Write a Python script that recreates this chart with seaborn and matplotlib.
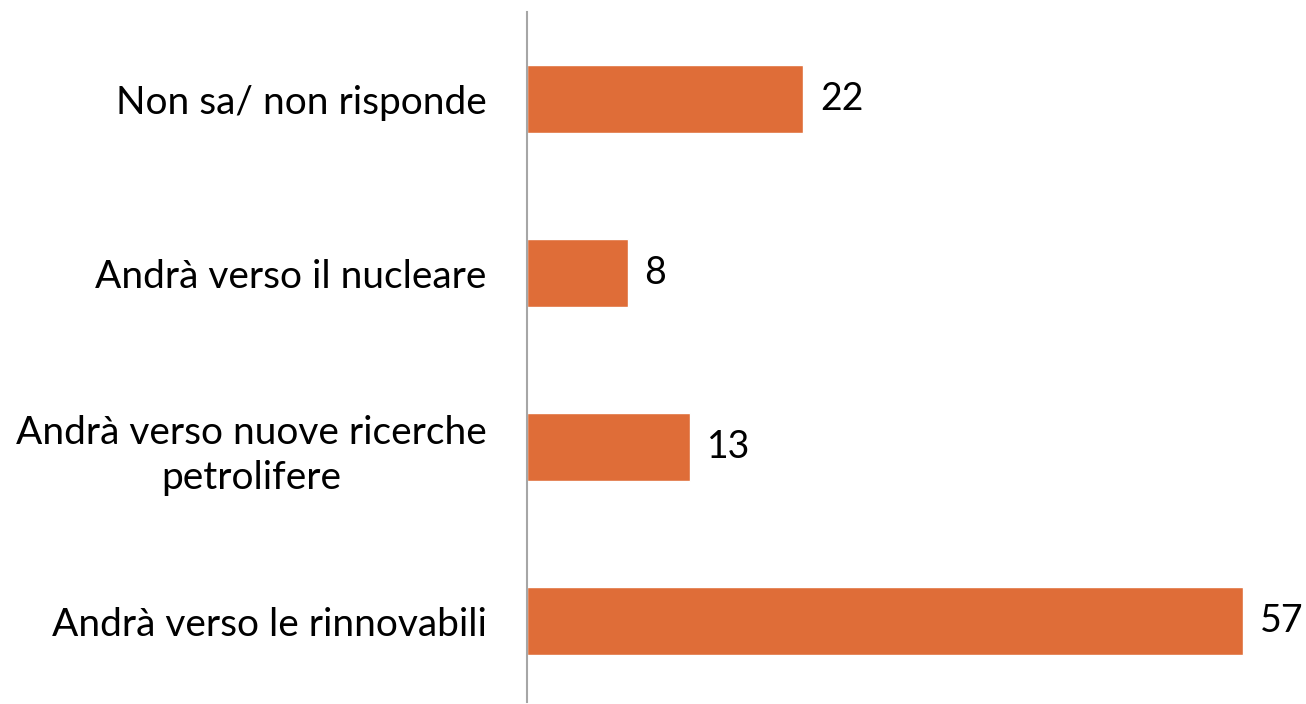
import matplotlib
matplotlib.use("Agg")
import matplotlib.pyplot as plt
import seaborn as sns
import pandas as pd

categories = ["Non sa/ non risponde", "Andrà verso il nucleare",
              "Andrà verso nuove ricerche\npetrolifere", "Andrà verso le rinnovabili"]
values = [22, 8, 13, 57]

df = pd.DataFrame({"cat": categories, "val": values})

sns.set_theme(style="white")
plt.rcParams['font.family'] = ['Lato', 'DejaVu Sans']

fig = plt.figure(figsize=(13.06, 7.04), dpi=100)
ax = fig.add_axes([527/1306, 1 - 702/704, (1281 - 527)/1306, (702 - 12)/704])

sns.barplot(data=df, x="val", y="cat", color="#DF6D38", saturation=1,
            width=0.39, ax=ax, orient="h")
ax.set_xlim(0, 60)
ax.set_ylim(3.4626, -0.5)
ax.set_xlabel("")
ax.set_ylabel("")
ax.set_xticks([])
for s in ["top", "right", "bottom"]:
    ax.spines[s].set_visible(False)
ax.spines["left"].set_color("#A6A6A6")
ax.spines["left"].set_linewidth(1.5)
ax.tick_params(axis="y", length=0, pad=29, labelsize=28, labelcolor="black")
for lbl in ax.get_yticklabels():
    lbl.set_multialignment("center")
    lbl.set_linespacing(1.3)
for c in ax.containers:
    ax.bar_label(c, labels=[str(v) for v in values], padding=12, fontsize=27, color="black")

fig.savefig("out.png", dpi=100)
